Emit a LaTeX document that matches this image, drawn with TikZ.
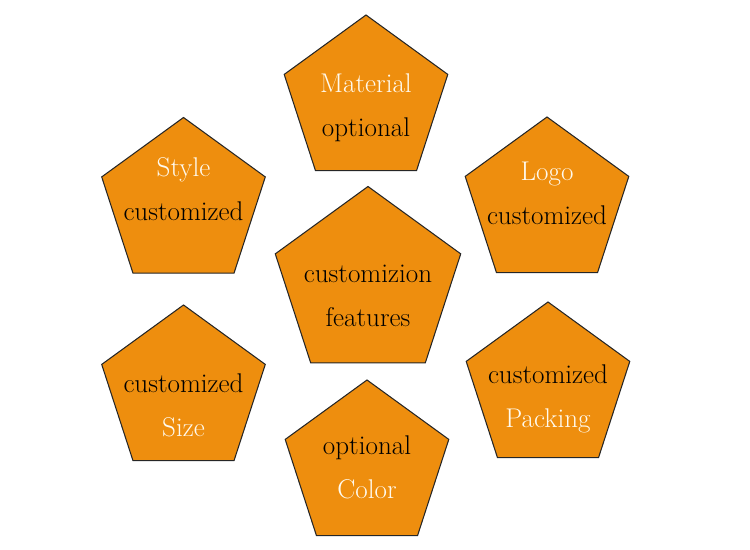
\documentclass[tikz,border=0pt]{standalone}
\usepackage{xcolor}
\usepackage{tikz}
\usetikzlibrary{shapes.geometric}

\definecolor{pentfill}{RGB}{238,142,14}
\definecolor{pentword}{RGB}{255,250,238}

\begin{document}
\begin{tikzpicture}[
  pent/.style={regular polygon, regular polygon sides=5, draw=black!85,
               line width=0.6pt, fill=pentfill, inner sep=0pt,
               minimum size=3.44cm},
  core/.style={pent, minimum size=3.9cm},
  tag/.style={align=center, inner sep=0pt, font=\fontsize{15.4}{25}\selectfont}]

\useasboundingbox (0,0) rectangle (15,11);

% ---- the centre ---------------------------------------------------------
\node[core, label={[tag, yshift=-7pt]center:customizion\\ features}] (feat) at (7.36,5.32) {};

% ---- the six options round it ------------------------------------------
\node[pent, label={[tag, yshift=-4pt]center:\textcolor{pentword}{Material}\\ optional}] (mat) at (7.32,8.98) {};
\node[pent, label={[tag, yshift=8pt]center:\textcolor{pentword}{Style}\\ customized}] (sty) at (3.67,6.93) {};
\node[pent, label={[tag, yshift=5.5pt]center:\textcolor{pentword}{Logo}\\ customized}] (logo) at (10.94,6.94) {};
\node[pent, label={[tag, yshift=-8pt]center:customized\\ \textcolor{pentword}{Size}}] (size) at (3.67,3.18) {};
\node[pent, label={[tag, yshift=-6pt]center:customized\\ \textcolor{pentword}{Packing}}] (pack) at (10.96,3.24) {};
\node[pent, label={[tag, yshift=-1pt]center:optional\\ \textcolor{pentword}{Color}}] (col) at (7.34,1.68) {};

\end{tikzpicture}
\end{document}
